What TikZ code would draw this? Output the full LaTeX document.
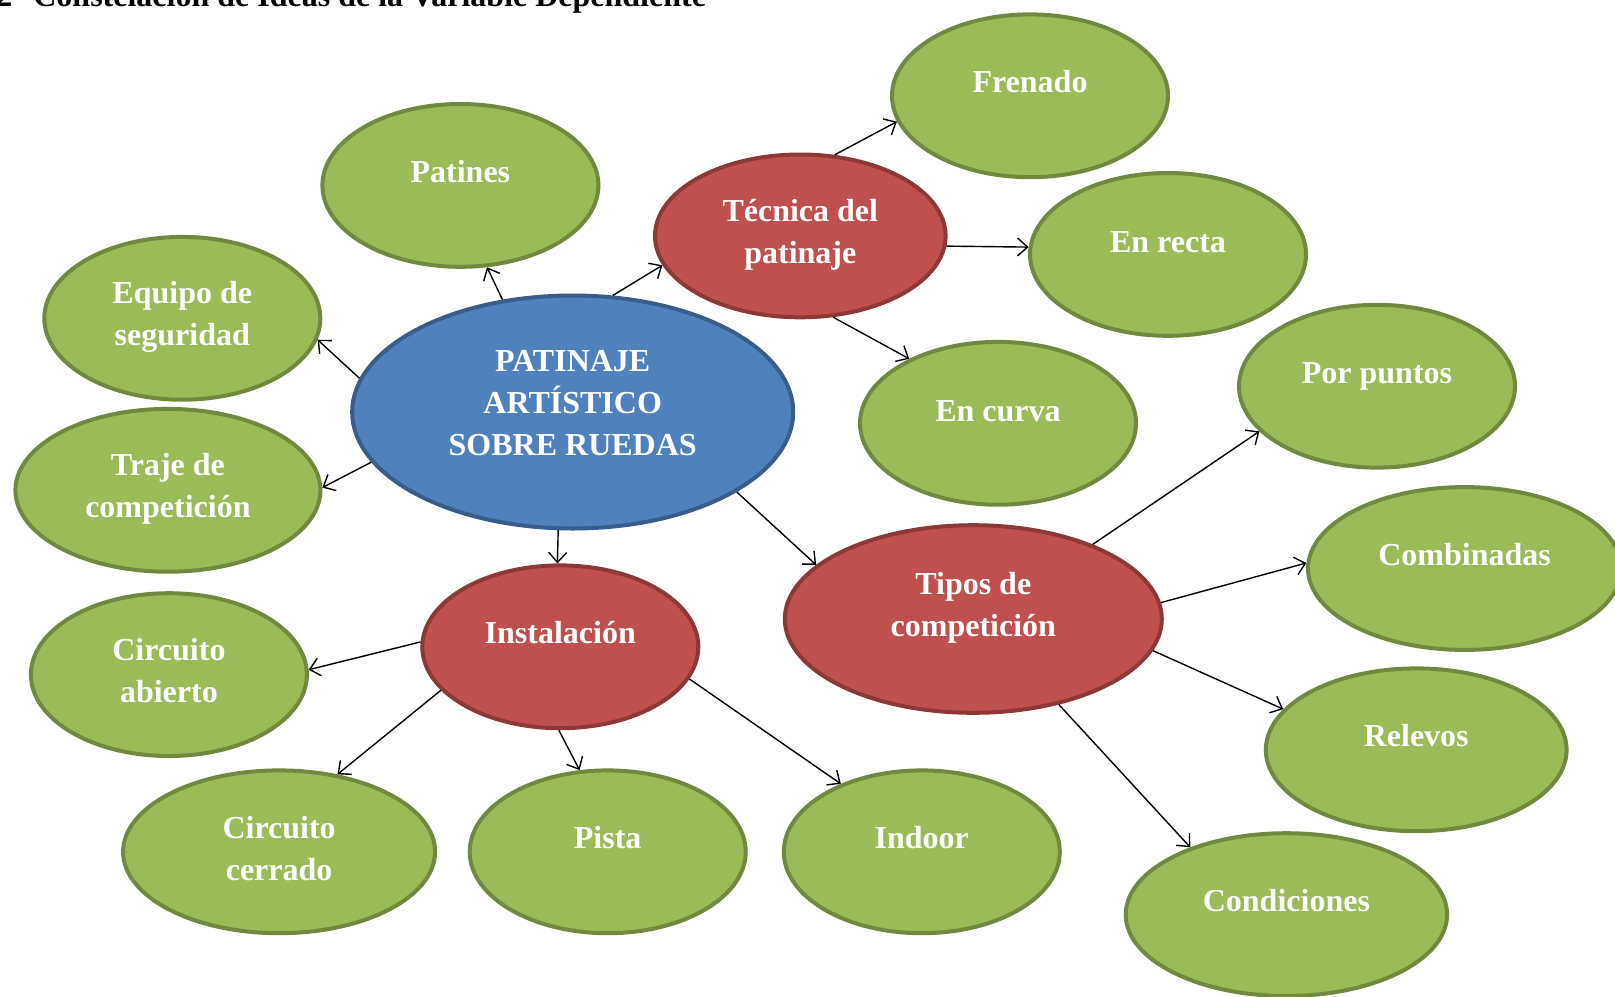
\documentclass[tikz,border=0pt]{standalone}
\usepackage{fontspec}
\setmainfont{Liberation Serif}
\usetikzlibrary{shapes.geometric,arrows.meta}
\definecolor{gfill}{HTML}{9BBB59}
\definecolor{gline}{HTML}{71893F}
\definecolor{rfill}{HTML}{C0504D}
\definecolor{rline}{HTML}{8C3836}
\definecolor{bfill}{HTML}{4F81BD}
\definecolor{bline}{HTML}{385D8A}
\begin{document}
\begin{tikzpicture}[x=0.5pt,y=-0.5pt,
 ell/.style={ellipse, inner sep=0pt, line width=2pt, minimum width=138pt, minimum height=81.4pt},
 gell/.style={ell, fill=gfill, draw=gline},
 rell/.style={ell, fill=rfill, draw=rline},
 bell/.style={ell, fill=bfill, draw=bline},
 lbl/.style={text=white, font=\fontsize{16}{21}\selectfont\bfseries, align=center, inner sep=0pt},
 conn/.style={-{Straight Barb[length=5pt,width=9pt]}, line width=0.7pt, black}]
\clip (0,0) rectangle (1615,996);
\fill[white] (0,0) rectangle (1615,996);

\node[anchor=base west, inner sep=0pt, font=\fontsize{16}{18}\selectfont\bfseries] (title) at (-4,6.7) {2\hspace{10.5pt}Constelación de Ideas de la Variable Dependiente};

% ellipses
\node[bell, minimum width=220.5pt, minimum height=116.5pt] (cen) at (572.7,412.0) {};
\node[rell, minimum width=145.3pt] (tec) at (800.3,235.9) {};
\node[rell, minimum width=188.5pt, minimum height=93.8pt] (tip) at (973.3,619.0) {};
\node[rell] (ins) at (560.3,646.8) {};
\node[gell] (fre) at (1030,95.8) {};
\node[gell] (pat) at (460.4,185.4) {};
\node[gell] (equ) at (182.3,318.3) {};
\node[gell, minimum width=152.5pt] (tra) at (167.9,490.3) {};
\node[gell] (rec) at (1168,254.4) {};
\node[gell] (cur) at (998,423.3) {};
\node[gell] (pun) at (1377,386.2) {};
\node[gell, minimum width=156.6pt] (com) at (1464.6,568.5) {};
\node[gell, minimum width=150.4pt] (rel) at (1416.2,749.8) {};
\node[gell, minimum width=160.7pt] (con) at (1286.4,914.6) {};
\node[gell] (abi) at (168.9,674.6) {};
\node[gell, minimum width=156pt] (cer) at (279.1,851.8) {};
\node[gell] (pis) at (607.7,851.8) {};
\node[gell] (ind) at (921.8,851.8) {};

% labels
\node[lbl] (cenT) at ([yshift=4.7pt]cen.center) {PATINAJE\\ARTÍSTICO\\SOBRE RUEDAS};
\node[lbl] (tecT) at ([yshift=0.8pt]tec.center) {Técnica del\\patinaje};
\node[lbl] (tipT) at ([yshift=5.7pt]tip.center) {Tipos de\\competición};
\node[lbl] (insT) at ([yshift=7.2pt]ins.center) {Instalación};
\node[lbl] (freT) at ([yshift=7.2pt]fre.center) {Frenado};
\node[lbl] (patT) at ([yshift=6.7pt]pat.center) {Patines};
\node[lbl] (equT) at ([yshift=0.6pt]equ.center) {Equipo de\\seguridad};
\node[lbl] (traT) at ([yshift=0.6pt]tra.center) {Traje de\\competición};
\node[lbl] (recT) at ([yshift=6.2pt]rec.center) {En recta};
\node[lbl] (curT) at ([yshift=6.2pt]cur.center) {En curva};
\node[lbl] (punT) at ([yshift=4.7pt]pun.center) {Por puntos};
\node[lbl] (comT) at ([yshift=7.2pt]com.center) {Combinadas};
\node[lbl] (relT) at ([yshift=7.2pt]rel.center) {Relevos};
\node[lbl] (conT) at ([yshift=7.2pt]con.center) {Condiciones};
\node[lbl] (abiT) at ([yshift=2pt]abi.center) {Circuito\\abierto};
\node[lbl] (cerT) at ([yshift=1.5pt]cer.center) {Circuito\\cerrado};
\node[lbl] (pisT) at ([yshift=7.2pt]pis.center) {Pista};
\node[lbl] (indT) at ([yshift=7.2pt]ind.center) {Indoor};

% connectors
\draw[conn] (cen.122.3) -- (pat.-72.6);
\draw[conn] (cen.171.2) -- (equ.-9.9);
\draw[conn] (cen.194.7) -- (tra.1.9);
\draw[conn] (cen.71.7) -- (tec.192.7);
\draw[conn] (cen.263) -- (ins.92.5);
\draw[conn] (cen.-26.6) -- (tip.161.4);
\draw[conn] (tec.67.1) -- (fre.191.4);
\draw[conn] (tec.-4.3) -- (rec.177.5);
\draw[conn] (tec.-68.8) -- (cur.144);
\draw[conn] (tip.32.2) -- (pun.201.8);
\draw[conn] (tip.5.6) -- (com.178.9);
\draw[conn] (tip.-10) -- (rel.163.9);
\draw[conn] (tip.-45.4) -- (con.145.1);
\draw[conn] (ins.178.8) -- (abi.2.1);
\draw[conn] (ins.200.3) -- (cer.53);
\draw[conn] (ins.269.3) -- (pis.109.3);
\draw[conn] (ins.-14.6) -- (ind.140.5);
\end{tikzpicture}
\end{document}
